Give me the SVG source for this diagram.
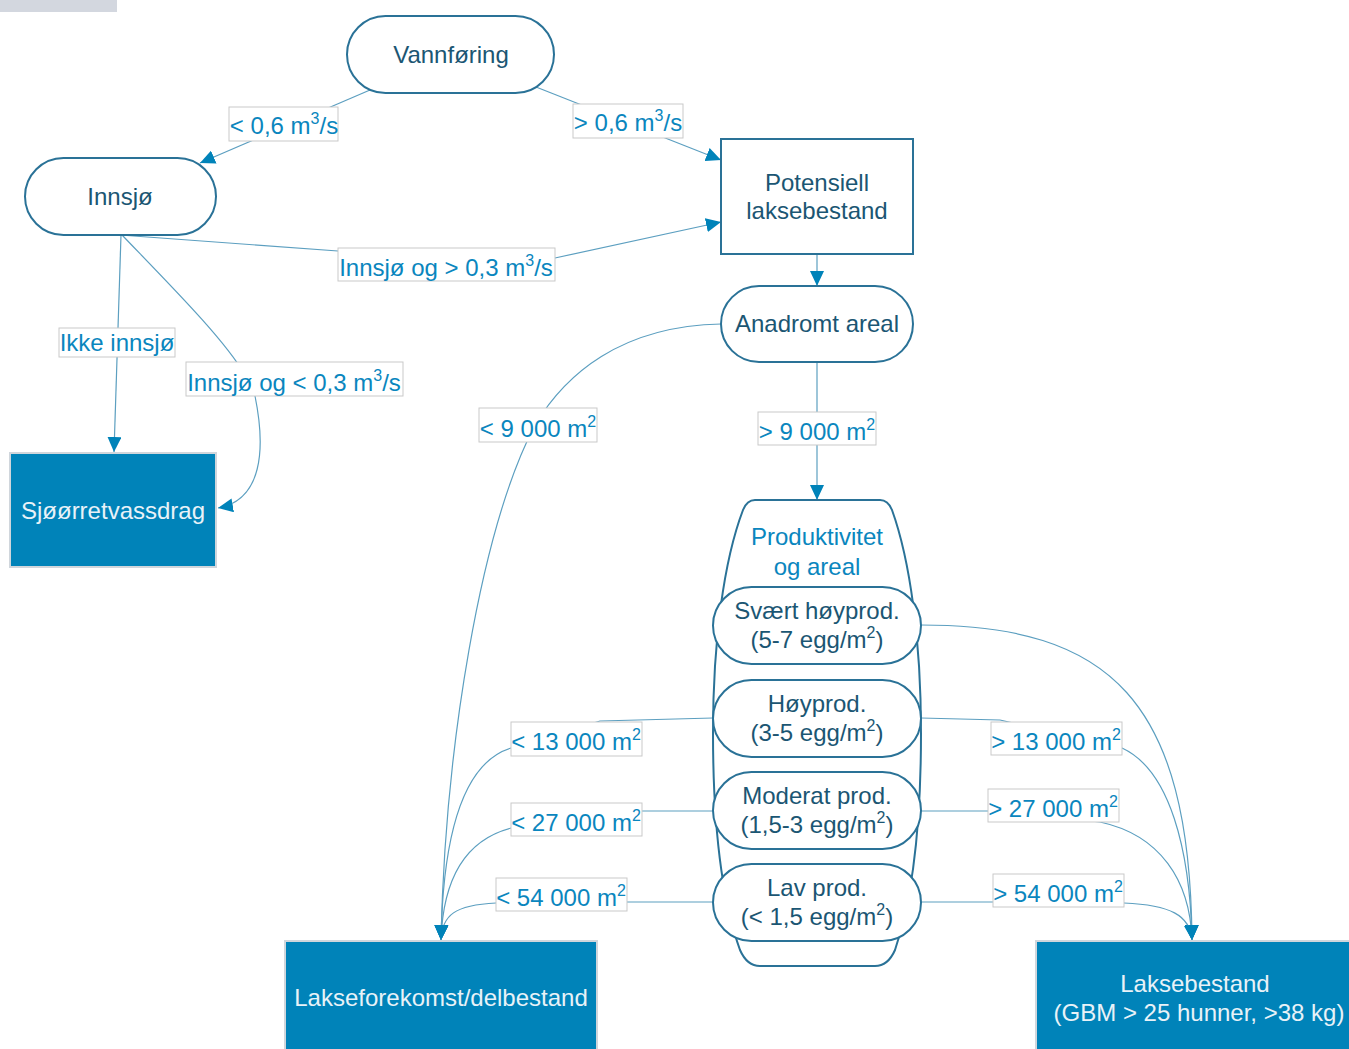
<svg xmlns="http://www.w3.org/2000/svg" width="1349" height="1049" viewBox="0 0 1349 1049">
<defs>
<style>
.node{fill:#fff;stroke:#2a7297;stroke-width:2}
.fill{fill:#0083b9;stroke:#d0d6dc;stroke-width:2}
.t{font-family:"Liberation Sans",Arial,sans-serif;font-size:24px;fill:#1b5673;text-anchor:middle}
.tw{font-family:"Liberation Sans",Arial,sans-serif;font-size:24px;fill:#e8f2f8;text-anchor:middle}
.tc{font-family:"Liberation Sans",Arial,sans-serif;font-size:24px;fill:#0a86be;text-anchor:middle}
.lb{fill:#fff;stroke:#c9c9c9;stroke-width:1}
.lt{font-family:"Liberation Sans",Arial,sans-serif;font-size:24px;fill:#0a86be;text-anchor:middle}
.sup{font-size:16px}
.c{fill:none;stroke:#5c9fc0;stroke-width:1.2}
.ca{fill:none;stroke:#5c9fc0;stroke-width:1.2;marker-end:url(#ah)}
</style>
<marker id="ah" markerUnits="userSpaceOnUse" markerWidth="16" markerHeight="14" refX="15" refY="7" orient="auto">
<path d="M0,0 L15,7 L0,14 z" fill="#0083b9"/>
</marker>
</defs>
<rect x="0" y="0" width="117" height="12" fill="#d3d7df"/>

<g id="connectors">
<path class="ca" d="M370,90 L200,163"/>
<path class="ca" d="M536,87 L721,160"/>
<path class="ca" d="M120,235 L338,251 L555,258 L721,222"/>
<path class="ca" d="M121,235 L114,452"/>
<path class="ca" d="M122,235 C170,285 225,340 245,375 L255,396 C266,450 262,500 218,508"/>
<path class="ca" d="M817,254 L817,286"/>
<path class="ca" d="M817,362 L817,500"/>
<path class="ca" d="M721,324 C620,326 565,375 535,425 C480,530 445,750 441,940"/>
<path class="ca" d="M921,625 C1110,625 1190,700 1192,940"/>
<path class="ca" d="M713,718 L600,721 L511,748 C465,762 443,830 441,940"/>
<path class="ca" d="M713,811 L642,811 L511,828 C465,840 443,880 441,940"/>
<path class="ca" d="M713,902 L627,902 L496,903 C455,905 442,915 441,940"/>
<path class="ca" d="M921,718 L1000,720 L1122,748 C1170,770 1190,850 1192,940"/>
<path class="ca" d="M921,811 L988,811 L1100,822 C1160,835 1190,880 1192,940"/>
<path class="ca" d="M921,902 L993,902 L1124,903 C1170,905 1190,915 1192,940"/>
</g>

<g id="labels">
<g id="lbl-lt06"><rect class="lb" x="229" y="107" width="109" height="34"/><text class="lt" x="284" y="134">&lt; 0,6 m<tspan class="sup" dy="-10">3</tspan><tspan dy="10">/s</tspan></text></g>
<g id="lbl-gt06"><rect class="lb" x="573" y="104" width="110" height="34"/><text class="lt" x="628" y="131">&gt; 0,6 m<tspan class="sup" dy="-10">3</tspan><tspan dy="10">/s</tspan></text></g>
<g id="lbl-gt03"><rect class="lb" x="338" y="248" width="217" height="33"/><text class="lt" x="446" y="276">Innsjø og &gt; 0,3 m<tspan class="sup" dy="-10">3</tspan><tspan dy="10">/s</tspan></text></g>
<g id="lbl-ikke"><rect class="lb" x="59" y="328" width="116" height="29"/><text class="lt" x="117" y="351">Ikke innsjø</text></g>
<g id="lbl-lt03"><rect class="lb" x="186" y="362" width="217" height="34"/><text class="lt" x="294" y="391">Innsjø og &lt; 0,3 m<tspan class="sup" dy="-10">3</tspan><tspan dy="10">/s</tspan></text></g>
<g id="lbl-lt9"><rect class="lb" x="479" y="408" width="118" height="34"/><text class="lt" x="538" y="437">&lt; 9 000 m<tspan class="sup" dy="-10">2</tspan></text></g>
<g id="lbl-gt9"><rect class="lb" x="758" y="412" width="118" height="33"/><text class="lt" x="817" y="440">&gt; 9 000 m<tspan class="sup" dy="-10">2</tspan></text></g>
<g id="lbl-lt13"><rect class="lb" x="511" y="722" width="131" height="34"/><text class="lt" x="576" y="750">&lt; 13 000 m<tspan class="sup" dy="-10">2</tspan></text></g>
<g id="lbl-lt27"><rect class="lb" x="511" y="803" width="131" height="33"/><text class="lt" x="576" y="831">&lt; 27 000 m<tspan class="sup" dy="-10">2</tspan></text></g>
<g id="lbl-lt54"><rect class="lb" x="496" y="878" width="131" height="33"/><text class="lt" x="561" y="906">&lt; 54 000 m<tspan class="sup" dy="-10">2</tspan></text></g>
<g id="lbl-gt13"><rect class="lb" x="991" y="722" width="131" height="33"/><text class="lt" x="1056" y="750">&gt; 13 000 m<tspan class="sup" dy="-10">2</tspan></text></g>
<g id="lbl-gt27"><rect class="lb" x="988" y="789" width="131" height="33"/><text class="lt" x="1053" y="817">&gt; 27 000 m<tspan class="sup" dy="-10">2</tspan></text></g>
<g id="lbl-gt54"><rect class="lb" x="993" y="874" width="131" height="33"/><text class="lt" x="1058" y="902">&gt; 54 000 m<tspan class="sup" dy="-10">2</tspan></text></g>
</g>

<g id="vannforing"><rect class="node" x="347" y="16" width="207" height="77" rx="38.5"/><text class="t" x="451" y="63">Vannføring</text></g>
<g id="innsjo"><rect class="node" x="25" y="158" width="191" height="77" rx="38.5"/><text class="t" x="120" y="205">Innsjø</text></g>
<g id="potensiell"><rect class="node" x="721" y="139" width="192" height="115"/><text class="t" x="817" y="191">Potensiell</text><text class="t" x="817" y="219">laksebestand</text></g>
<g id="anadromt"><rect class="node" x="721" y="286" width="192" height="76" rx="38"/><text class="t" x="817" y="332">Anadromt areal</text></g>
<g id="sjoorret"><rect class="fill" x="10" y="453" width="206" height="114"/><text class="tw" x="113" y="519">Sjøørretvassdrag</text></g>
<g id="produktivitet">
<path class="node" d="M755,500 L880,500 Q888,500 892,510 C910,560 921,640 921,733 C921,830 912,900 895,950 Q888,966 875,966 L760,966 Q747,966 740,950 C722,900 713,830 713,733 C713,640 724,560 743,510 Q747,500 755,500 Z"/>
<text class="tc" x="817" y="545">Produktivitet</text><text class="tc" x="817" y="575">og areal</text>
</g>
<g id="svaert"><rect class="node" x="713" y="587" width="208" height="77" rx="38.5"/><text class="t" x="817" y="619">Svært høyprod.</text><text class="t" x="817" y="648">(5-7 egg/m<tspan class="sup" dy="-10">2</tspan><tspan dy="10">)</tspan></text></g>
<g id="hoy"><rect class="node" x="713" y="680" width="208" height="77" rx="38.5"/><text class="t" x="817" y="712">Høyprod.</text><text class="t" x="817" y="741">(3-5 egg/m<tspan class="sup" dy="-10">2</tspan><tspan dy="10">)</tspan></text></g>
<g id="moderat"><rect class="node" x="713" y="772" width="208" height="77" rx="38.5"/><text class="t" x="817" y="804">Moderat prod.</text><text class="t" x="817" y="833">(1,5-3 egg/m<tspan class="sup" dy="-10">2</tspan><tspan dy="10">)</tspan></text></g>
<g id="lav"><rect class="node" x="713" y="864" width="208" height="77" rx="38.5"/><text class="t" x="817" y="896">Lav prod.</text><text class="t" x="817" y="925">(&lt; 1,5 egg/m<tspan class="sup" dy="-10">2</tspan><tspan dy="10">)</tspan></text></g>
<g id="lakseforekomst"><rect class="fill" x="285" y="941" width="312" height="115"/><text class="tw" x="441" y="1006">Lakseforekomst/delbestand</text></g>
<g id="laksebestand"><rect class="fill" x="1036" y="941" width="320" height="115"/><text class="tw" x="1195" y="992">Laksebestand</text><text class="tw" x="1199" y="1021">(GBM &gt; 25 hunner, &gt;38 kg)</text></g>
</svg>
